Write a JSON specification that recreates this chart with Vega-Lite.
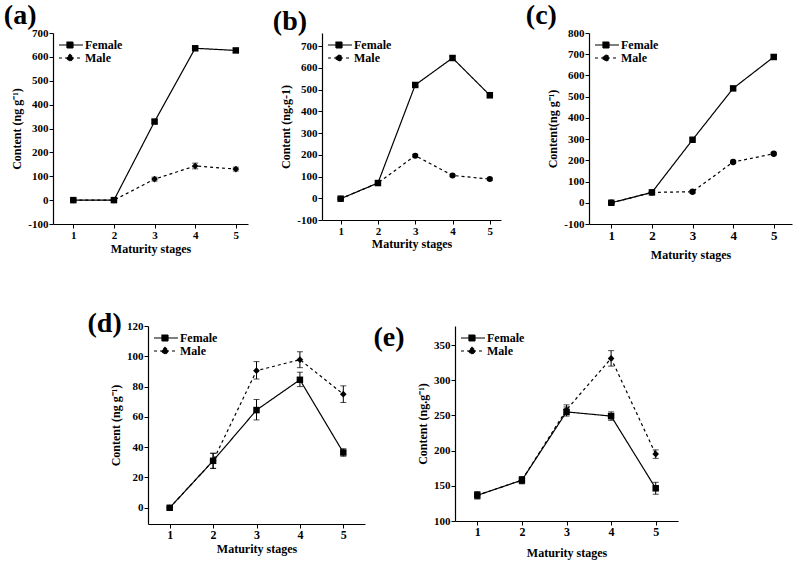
{
  "$schema": "https://vega.github.io/schema/vega-lite/v6.json",
  "background": "white",
  "padding": {"left": 3, "top": 2, "right": 5, "bottom": 5},
  "config": {
    "view": {"stroke": null},
    "font": "Liberation Serif",
    "axis": {"grid": false, "domainColor": "black", "tickColor": "black", "labelColor": "black", "titleColor": "black", "labelFont": "Liberation Serif", "titleFont": "Liberation Serif", "labelFontWeight": "bold", "titleFontWeight": "bold", "labelFontSize": 11, "titleFontSize": 12, "tickSize": 4, "domainWidth": 1.2, "labelOverlap": false, "labelPadding": 1},
    "axisY": {"labelExpr": "datum.value < 0 ? '-' + abs(datum.value) : datum.label", "tickCount": 20},
    "legend": {"orient": "top-left", "labelFont": "Liberation Serif", "labelFontWeight": "bold", "labelFontSize": 12, "labelColor": "black", "title": null, "symbolSize": 144, "symbolType": "M-1,0H3M0.33,-0.5H1.33V0.5H0.33Z", "symbolFillColor": "black", "symbolStrokeColor": "black", "symbolStrokeWidth": 1.2, "rowPadding": 0, "offset": 5, "padding": 0, "labelOffset": 13},
    "title": {"font": "Liberation Serif", "fontSize": 28, "fontWeight": "bold", "color": "black", "anchor": "start", "frame": "bounds"},
    "errorbar": {"ticks": {"size": 6}, "rule": {"strokeWidth": 1}}
  },
  "resolve": {"scale": {"strokeDash": "independent"}, "legend": {"strokeDash": "independent"}},
  "spacing": 50,
  "vconcat": [
    {
      "spacing": 24,
      "resolve": {"scale": {"strokeDash": "independent"}, "legend": {"strokeDash": "independent"}},
      "hconcat": [
        {
          "width": 195, "height": 191,
          "title": {"text": "(a)", "dx": -7, "offset": -3},
          "data": {"values": [
            {"stage": 1, "sex": "Female", "v": 0, "lo": -4, "hi": 4},
            {"stage": 2, "sex": "Female", "v": 0, "lo": -4, "hi": 4},
            {"stage": 3, "sex": "Female", "v": 329, "lo": 322, "hi": 336},
            {"stage": 4, "sex": "Female", "v": 636, "lo": 628, "hi": 644},
            {"stage": 5, "sex": "Female", "v": 627, "lo": 619, "hi": 635},
            {"stage": 1, "sex": "Male", "v": 0, "lo": -3, "hi": 3},
            {"stage": 2, "sex": "Male", "v": 0, "lo": -3, "hi": 3},
            {"stage": 3, "sex": "Male", "v": 88, "lo": 80, "hi": 96},
            {"stage": 4, "sex": "Male", "v": 143, "lo": 131, "hi": 155},
            {"stage": 5, "sex": "Male", "v": 130, "lo": 122, "hi": 138}
          ]},
          "encoding": {"x": {"field": "stage", "type": "quantitative", "scale": {"domain": [0.5, 5.3], "nice": false, "zero": false}, "axis": {"values": [1, 2, 3, 4, 5], "title": "Maturity stages", "titlePadding": 3}}},
          "layer": [
            {"mark": {"type": "line", "color": "black", "strokeWidth": 1.2},
             "encoding": {
               "y": {"field": "v", "type": "quantitative", "title": "Content (ng g⁻¹)", "scale": {"domain": [-100, 700], "nice": false}, "axis": {"values": [-100, 0, 100, 200, 300, 400, 500, 600, 700], "tickCount": 20}},
               "strokeDash": {"field": "sex", "type": "nominal", "scale": {"domain": ["Female", "Male"], "range": [[1, 0], [3, 3]]},
                 "legend": {"encode": {"symbols": {"update": {"shape": {"signal": "datum.value === 'Male' ? 'M-1,0H3M0.83,-0.6L1.43,0L0.83,0.6L0.23,0Z' : 'M-1,0H3M0.33,-0.5H1.33V0.5H0.33Z'"}}}}}}
             }},
            {"mark": {"type": "errorbar", "ticks": true, "color": "black"},
             "encoding": {"y": {"field": "lo", "type": "quantitative", "title": "Content (ng g⁻¹)"}, "y2": {"field": "hi"}}},
            {"transform": [{"filter": "datum.sex === 'Female'"}],
             "mark": {"type": "point", "shape": "square", "filled": true, "color": "black", "opacity": 1, "size": 42},
             "encoding": {"y": {"field": "v", "type": "quantitative", "title": "Content (ng g⁻¹)"}}},
            {"transform": [{"filter": "datum.sex === 'Male'"}],
             "mark": {"type": "point", "shape": "diamond", "filled": true, "color": "black", "opacity": 1, "size": 45},
             "encoding": {"y": {"field": "v", "type": "quantitative", "title": "Content (ng g⁻¹)"}}}
          ]
        },
        {
          "width": 179, "height": 187,
          "title": {"text": "(b)", "dx": -7, "offset": -3},
          "data": {"values": [
            {"stage": 1, "sex": "Female", "v": -2, "lo": -7, "hi": 3},
            {"stage": 2, "sex": "Female", "v": 70, "lo": 65, "hi": 75},
            {"stage": 3, "sex": "Female", "v": 521, "lo": 514, "hi": 528},
            {"stage": 4, "sex": "Female", "v": 645, "lo": 637, "hi": 653},
            {"stage": 5, "sex": "Female", "v": 474, "lo": 462, "hi": 486},
            {"stage": 1, "sex": "Male", "v": -2, "lo": -6, "hi": 2},
            {"stage": 2, "sex": "Male", "v": 70, "lo": 65, "hi": 75},
            {"stage": 3, "sex": "Male", "v": 196, "lo": 190, "hi": 202},
            {"stage": 4, "sex": "Male", "v": 105, "lo": 100, "hi": 110},
            {"stage": 5, "sex": "Male", "v": 88, "lo": 83, "hi": 93}
          ]},
          "encoding": {"x": {"field": "stage", "type": "quantitative", "scale": {"domain": [0.5, 5.3], "nice": false, "zero": false}, "axis": {"values": [1, 2, 3, 4, 5], "title": "Maturity stages", "titlePadding": 2}}},
          "layer": [
            {"mark": {"type": "line", "color": "black", "strokeWidth": 1.2},
             "encoding": {
               "y": {"field": "v", "type": "quantitative", "title": "Content (ng.g-1)", "scale": {"domain": [-100, 760], "nice": false}, "axis": {"values": [-100, 0, 100, 200, 300, 400, 500, 600, 700], "tickCount": 20}},
               "strokeDash": {"field": "sex", "type": "nominal", "scale": {"domain": ["Female", "Male"], "range": [[1, 0], [3, 3]]},
                 "legend": {"encode": {"symbols": {"update": {"shape": {"signal": "datum.value === 'Male' ? 'M-1,0H3M0.83,-0.5A0.5,0.5,0,1,1,0.829,-0.5Z' : 'M-1,0H3M0.33,-0.5H1.33V0.5H0.33Z'"}}}}}}
             }},
            {"mark": {"type": "errorbar", "ticks": true, "color": "black"},
             "encoding": {"y": {"field": "lo", "type": "quantitative", "title": "Content (ng.g-1)"}, "y2": {"field": "hi"}}},
            {"transform": [{"filter": "datum.sex === 'Female'"}],
             "mark": {"type": "point", "shape": "square", "filled": true, "color": "black", "opacity": 1, "size": 42},
             "encoding": {"y": {"field": "v", "type": "quantitative", "title": "Content (ng.g-1)"}}},
            {"transform": [{"filter": "datum.sex === 'Male'"}],
             "mark": {"type": "point", "shape": "circle", "filled": true, "color": "black", "opacity": 1, "size": 36},
             "encoding": {"y": {"field": "v", "type": "quantitative", "title": "Content (ng.g-1)"}}}
          ]
        },
        {
          "width": 203, "height": 191,
          "title": {"text": "(c)", "dx": -21, "offset": -3},
          "data": {"values": [
            {"stage": 1, "sex": "Female", "v": 0, "lo": -4, "hi": 4},
            {"stage": 2, "sex": "Female", "v": 49, "lo": 45, "hi": 53},
            {"stage": 3, "sex": "Female", "v": 297, "lo": 291, "hi": 303},
            {"stage": 4, "sex": "Female", "v": 539, "lo": 532, "hi": 546},
            {"stage": 5, "sex": "Female", "v": 687, "lo": 677, "hi": 697},
            {"stage": 1, "sex": "Male", "v": 0, "lo": -4, "hi": 4},
            {"stage": 2, "sex": "Male", "v": 49, "lo": 45, "hi": 53},
            {"stage": 3, "sex": "Male", "v": 52, "lo": 46, "hi": 58},
            {"stage": 4, "sex": "Male", "v": 192, "lo": 187, "hi": 197},
            {"stage": 5, "sex": "Male", "v": 231, "lo": 226, "hi": 236}
          ]},
          "encoding": {"x": {"field": "stage", "type": "quantitative", "scale": {"domain": [0.45, 5.45], "nice": false, "zero": false}, "axis": {"values": [1, 2, 3, 4, 5], "title": "Maturity stages", "titlePadding": 7, "labelFontSize": 13}}},
          "layer": [
            {"mark": {"type": "line", "color": "black", "strokeWidth": 1.2},
             "encoding": {
               "y": {"field": "v", "type": "quantitative", "title": "Content(ng g⁻¹)", "scale": {"domain": [-100, 800], "nice": false}, "axis": {"values": [-100, 0, 100, 200, 300, 400, 500, 600, 700, 800], "tickCount": 20}},
               "strokeDash": {"field": "sex", "type": "nominal", "scale": {"domain": ["Female", "Male"], "range": [[1, 0], [3, 3]]},
                 "legend": {"encode": {"symbols": {"update": {"shape": {"signal": "datum.value === 'Male' ? 'M-1,0H3M0.83,-0.5A0.5,0.5,0,1,1,0.829,-0.5Z' : 'M-1,0H3M0.33,-0.5H1.33V0.5H0.33Z'"}}}}}}
             }},
            {"mark": {"type": "errorbar", "ticks": true, "color": "black"},
             "encoding": {"y": {"field": "lo", "type": "quantitative", "title": "Content(ng g⁻¹)"}, "y2": {"field": "hi"}}},
            {"transform": [{"filter": "datum.sex === 'Female'"}],
             "mark": {"type": "point", "shape": "square", "filled": true, "color": "black", "opacity": 1, "size": 42},
             "encoding": {"y": {"field": "v", "type": "quantitative", "title": "Content(ng g⁻¹)"}}},
            {"transform": [{"filter": "datum.sex === 'Male'"}],
             "mark": {"type": "point", "shape": "circle", "filled": true, "color": "black", "opacity": 1, "size": 40},
             "encoding": {"y": {"field": "v", "type": "quantitative", "title": "Content(ng g⁻¹)"}}}
          ]
        }
      ]
    },
    {
      "spacing": 8,
      "resolve": {"scale": {"strokeDash": "independent"}, "legend": {"strokeDash": "independent"}},
      "hconcat": [
        {
          "width": 26, "height": 20,
          "view": {"fill": "white", "stroke": null},
          "data": {"values": []},
          "mark": {"type": "point", "opacity": 0},
          "encoding": {}
        },
        {
          "width": 217, "height": 198,
          "title": {"text": "(d)", "dx": -22, "offset": -18},
          "data": {"values": [
            {"stage": 1, "sex": "Female", "v": 0, "lo": -0.8, "hi": 0.8},
            {"stage": 2, "sex": "Female", "v": 31, "lo": 26, "hi": 36},
            {"stage": 3, "sex": "Female", "v": 64.5, "lo": 58, "hi": 71.5},
            {"stage": 4, "sex": "Female", "v": 84.5, "lo": 80, "hi": 89.5},
            {"stage": 5, "sex": "Female", "v": 36.5, "lo": 34, "hi": 39},
            {"stage": 1, "sex": "Male", "v": 0, "lo": -0.8, "hi": 0.8},
            {"stage": 2, "sex": "Male", "v": 31, "lo": 26, "hi": 36},
            {"stage": 3, "sex": "Male", "v": 90.5, "lo": 85, "hi": 96.5},
            {"stage": 4, "sex": "Male", "v": 97.8, "lo": 92.5, "hi": 103},
            {"stage": 5, "sex": "Male", "v": 75, "lo": 69.5, "hi": 80.5}
          ]},
          "encoding": {"x": {"field": "stage", "type": "quantitative", "scale": {"domain": [0.5, 5.5], "nice": false, "zero": false}, "axis": {"values": [1, 2, 3, 4, 5], "title": "Maturity stages", "titlePadding": 3, "labelFontSize": 12}}},
          "layer": [
            {"mark": {"type": "line", "color": "black", "strokeWidth": 1.2},
             "encoding": {
               "y": {"field": "v", "type": "quantitative", "title": "Content (ng g⁻¹)", "scale": {"domain": [-10.7, 120], "nice": false, "zero": false}, "axis": {"values": [0, 20, 40, 60, 80, 100, 120], "tickCount": 20}},
               "strokeDash": {"field": "sex", "type": "nominal", "scale": {"domain": ["Female", "Male"], "range": [[1, 0], [3, 3]]},
                 "legend": {"encode": {"symbols": {"update": {"shape": {"signal": "datum.value === 'Male' ? 'M-1,0H3M0.83,-0.6L1.43,0L0.83,0.6L0.23,0Z' : 'M-1,0H3M0.33,-0.5H1.33V0.5H0.33Z'"}}}}}}
             }},
            {"mark": {"type": "errorbar", "ticks": true, "color": "black"},
             "encoding": {"y": {"field": "lo", "type": "quantitative", "title": "Content (ng g⁻¹)"}, "y2": {"field": "hi"}}},
            {"transform": [{"filter": "datum.sex === 'Female'"}],
             "mark": {"type": "point", "shape": "square", "filled": true, "color": "black", "opacity": 1, "size": 42},
             "encoding": {"y": {"field": "v", "type": "quantitative", "title": "Content (ng g⁻¹)"}}},
            {"transform": [{"filter": "datum.sex === 'Male'"}],
             "mark": {"type": "point", "shape": "diamond", "filled": true, "color": "black", "opacity": 1, "size": 45},
             "encoding": {"y": {"field": "v", "type": "quantitative", "title": "Content (ng g⁻¹)"}}}
          ]
        },
        {
          "width": 223, "height": 195,
          "title": {"text": "(e)", "dx": -43, "offset": -26},
          "data": {"values": [
            {"stage": 1, "sex": "Female", "v": 136.5, "lo": 131.5, "hi": 141.5},
            {"stage": 2, "sex": "Female", "v": 158, "lo": 153, "hi": 163},
            {"stage": 3, "sex": "Female", "v": 255, "lo": 249, "hi": 262},
            {"stage": 4, "sex": "Female", "v": 249, "lo": 243, "hi": 255},
            {"stage": 5, "sex": "Female", "v": 146.5, "lo": 138, "hi": 155},
            {"stage": 1, "sex": "Male", "v": 136.5, "lo": 131.5, "hi": 141.5},
            {"stage": 2, "sex": "Male", "v": 158, "lo": 153, "hi": 163},
            {"stage": 3, "sex": "Male", "v": 258, "lo": 251, "hi": 265},
            {"stage": 4, "sex": "Male", "v": 331, "lo": 320, "hi": 342},
            {"stage": 5, "sex": "Male", "v": 195, "lo": 189, "hi": 201}
          ]},
          "encoding": {"x": {"field": "stage", "type": "quantitative", "scale": {"domain": [0.5, 5.5], "nice": false, "zero": false}, "axis": {"values": [1, 2, 3, 4, 5], "title": "Maturity stages", "titlePadding": 10, "labelFontSize": 12}}},
          "layer": [
            {"mark": {"type": "line", "color": "black", "strokeWidth": 1.2},
             "encoding": {
               "y": {"field": "v", "type": "quantitative", "title": "Content (ng.g⁻¹)", "scale": {"domain": [100, 377], "nice": false, "zero": false}, "axis": {"values": [100, 150, 200, 250, 300, 350], "tickCount": 20}},
               "strokeDash": {"field": "sex", "type": "nominal", "scale": {"domain": ["Female", "Male"], "range": [[1, 0], [3, 3]]},
                 "legend": {"encode": {"symbols": {"update": {"shape": {"signal": "datum.value === 'Male' ? 'M-1,0H3M0.83,-0.6L1.43,0L0.83,0.6L0.23,0Z' : 'M-1,0H3M0.33,-0.5H1.33V0.5H0.33Z'"}}}}}}
             }},
            {"mark": {"type": "errorbar", "ticks": true, "color": "black"},
             "encoding": {"y": {"field": "lo", "type": "quantitative", "title": "Content (ng.g⁻¹)"}, "y2": {"field": "hi"}}},
            {"transform": [{"filter": "datum.sex === 'Female'"}],
             "mark": {"type": "point", "shape": "square", "filled": true, "color": "black", "opacity": 1, "size": 42},
             "encoding": {"y": {"field": "v", "type": "quantitative", "title": "Content (ng.g⁻¹)"}}},
            {"transform": [{"filter": "datum.sex === 'Male'"}],
             "mark": {"type": "point", "shape": "diamond", "filled": true, "color": "black", "opacity": 1, "size": 45},
             "encoding": {"y": {"field": "v", "type": "quantitative", "title": "Content (ng.g⁻¹)"}}}
          ]
        }
      ]
    }
  ]
}
